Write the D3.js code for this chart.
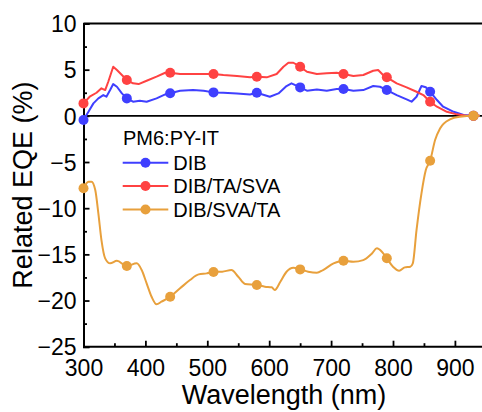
<!DOCTYPE html>
<html>
<head>
<meta charset="utf-8">
<script src="https://cdn.jsdelivr.net/npm/d3@7"></script>
<style>
  html, body { margin: 0; padding: 0; background: #fff; overflow: hidden; }
  svg { display: block; font-family: "Liberation Sans", Arial, sans-serif; }
</style>
</head>
<body>
<svg id="chart" width="482" height="412"></svg>
<script>
// Wavelength (nm) and related EQE (%) for each processing route
const dibWl = [300,308,316,324,332,337,343,348,354,362,370,380,391,402,418,432,440,456,477,494,510,526,548,569,580,601,615,628,636,650,661,677,693,709,720,736,752,768,779,790,806,822,830,838,846,853,860,871,881,898,914,930,940];
const dibEqe = [-0.45,0.44,1.35,1.89,2.25,2.07,2.79,3.44,3.15,2.43,1.89,1.53,1.64,1.53,1.89,2.32,2.44,2.72,2.79,2.72,2.54,2.5,2.43,2.32,2.5,2.07,2.43,3.23,3.52,3.08,2.72,2.86,2.72,2.9,2.9,2.72,2.79,3.23,3.15,2.79,2.25,1.78,1.53,2.07,3.23,3.09,2.61,1.71,0.99,0.44,0.09,0,0];

const taSvaWl = [300,310,321,329,335,340,348,354,362,370,380,389,402,418,432,440,456,472,494,510,526,548,569,580,596,612,623,631,639,650,661,677,693,709,720,736,752,768,776,784,790,806,822,838,849,860,871,887,903,919,930,940];
const taSvaEqe = [1.35,2.07,2.5,2.98,2.79,3.69,5.32,4.96,4.42,3.88,3.52,3.44,3.8,4.24,4.67,4.67,4.53,4.53,4.53,4.53,4.42,4.31,4.17,4.24,4.17,4.53,5.32,5.75,5.75,5.32,4.78,4.53,4.6,4.67,4.53,4.31,4.42,4.88,4.96,4.42,4.17,3.52,3.09,2.61,2.25,1.53,0.99,0.44,0.16,0.01,0,0];

const svaTaWl = [300,308,313,319,324,329,335,343,354,370,386,394,402,410,418,426,440,456,472,486,499,510,524,539,550,561,580,593,604,609,618,628,639,650,663,677,687,704,720,736,752,766,774,782,790,800,810,819,828,832,838,846,853,860,868,876,892,908,930,940];
const svaTaEqe = [-7.85,-7.13,-7.13,-8.04,-10.56,-13.45,-15.43,-15.97,-15.69,-16.27,-15.97,-16.7,-18.14,-19.59,-20.41,-20.13,-19.59,-18.68,-17.78,-17.17,-17.06,-16.91,-16.88,-16.7,-17.42,-18.21,-18.32,-18.5,-18.57,-18.86,-17.97,-16.88,-16.45,-16.63,-16.88,-16.99,-16.7,-15.98,-15.69,-15.8,-15.62,-14.9,-14.35,-14.71,-15.43,-16.34,-16.77,-16.41,-16.34,-15.98,-12.37,-8.39,-5.87,-4.86,-2.62,-1.36,-0.38,-0.1,0,0];

// Wavelengths carrying a symbol
const markerWl = [300,370,440,510,580,650,720,790,860,930];

const xTicks = [300,400,500,600,700,800,900];
const yTicks = [-25,-20,-15,-10,-5,0,5,10];
const seriesNames = ["DIB", "DIB/TA/SVA", "DIB/SVA/TA"];
const seriesColors = ["#3f3fff", "#ff4242", "#e8a03c"];
const legendTitle = "PM6:PY-IT";

const series = [
  { name: seriesNames[0], color: seriesColors[0], wl: dibWl, eqe: dibEqe, curve: d3.curveLinear },
  { name: seriesNames[1], color: seriesColors[1], wl: taSvaWl, eqe: taSvaEqe, curve: d3.curveLinear },
  { name: seriesNames[2], color: seriesColors[2], wl: svaTaWl, eqe: svaTaEqe, curve: d3.curveMonotoneX }
];

const svg = d3.select("#chart");
const plotLeft = 83.5, plotTop = 23.5, plotBottom = 346.7;

const x = d3.scaleLinear().domain([300, 950]).range([plotLeft, plotLeft + 650 * 0.619]);
const y = d3.scaleLinear().domain([-25, 10]).range([plotBottom, plotTop]);

// Frame: top line and zero reference
svg.append("line").attr("x1", plotLeft).attr("x2", 482).attr("y1", plotTop).attr("y2", plotTop)
  .attr("stroke", "#000").attr("stroke-width", 2);
svg.append("line").attr("x1", plotLeft).attr("x2", 482).attr("y1", y(0)).attr("y2", y(0))
  .attr("stroke", "#000").attr("stroke-width", 1.6);

// Bottom axis with inward ticks
const xAxis = svg.append("g").attr("transform", `translate(0,${plotBottom})`)
  .call(d3.axisBottom(x).tickValues(xTicks).tickSize(-6).tickPadding(13).tickFormat(d3.format("d")));
const xMinor = svg.append("g").attr("transform", `translate(0,${plotBottom})`)
  .call(d3.axisBottom(x).tickValues(xTicks.map(d => d + 50)).tickSize(-3.5).tickFormat(""));

// Left axis with inward ticks
const yAxis = svg.append("g").attr("transform", `translate(${plotLeft},0)`)
  .call(d3.axisLeft(y).tickValues(yTicks).tickSize(-6).tickPadding(7).tickFormat(d3.format("d")));
const yMinor = svg.append("g").attr("transform", `translate(${plotLeft},0)`)
  .call(d3.axisLeft(y).tickValues(yTicks.slice(0, -1).map(d => d + 2.5)).tickSize(-3.5).tickFormat(""));

[xAxis, xMinor, yAxis, yMinor].forEach(g => {
  g.select(".domain").attr("stroke", "#000").attr("stroke-width", 2);
  g.selectAll(".tick line").attr("stroke", "#000").attr("stroke-width", 1.8);
  g.selectAll("text").attr("fill", "#000").attr("font-size", 23)
    .attr("font-family", "'Liberation Sans', Arial, sans-serif");
});
xAxis.select(".domain").attr("d", `M${plotLeft},0H482`);
xMinor.select(".domain").remove();
yMinor.select(".domain").remove();
yAxis.selectAll("text").attr("dy", "0.36em");

// Axis titles
svg.append("text").attr("x", 284).attr("y", 404)
  .attr("text-anchor", "middle").attr("font-size", 27).text("Wavelength (nm)");
svg.append("text").attr("transform", `translate(32,${(plotTop + plotBottom) / 2}) rotate(-90)`)
  .attr("text-anchor", "middle").attr("font-size", 27).text("Related EQE (%)");

// Curves and symbols
series.forEach(s => {
  const pts = s.wl.map((w, i) => [w, s.eqe[i]]);
  const line = d3.line().x(d => x(d[0])).y(d => y(d[1])).curve(s.curve);
  svg.append("path").datum(pts).attr("d", line)
    .attr("fill", "none").attr("stroke", s.color).attr("stroke-width", 2)
    .attr("stroke-linejoin", "round");
  svg.append("g").selectAll("circle").data(pts.filter(d => markerWl.includes(d[0])))
    .join("circle").attr("cx", d => x(d[0])).attr("cy", d => y(d[1])).attr("r", 5)
    .attr("fill", s.color);
});

// Legend
svg.append("text").attr("x", 123).attr("y", 144.5).attr("font-size", 20).text(legendTitle);
const rowY = [162.7, 186, 209.5];
series.forEach((s, i) => {
  const g = svg.append("g").attr("transform", `translate(0,${rowY[i]})`);
  g.append("line").attr("x1", 122.7).attr("x2", 168.3).attr("stroke", s.color).attr("stroke-width", 2);
  g.append("circle").attr("cx", 145.5).attr("r", 5).attr("fill", s.color);
  g.append("text").attr("x", 173.3).attr("y", 7).attr("font-size", 20).text(s.name);
});
</script>
</body>
</html>
